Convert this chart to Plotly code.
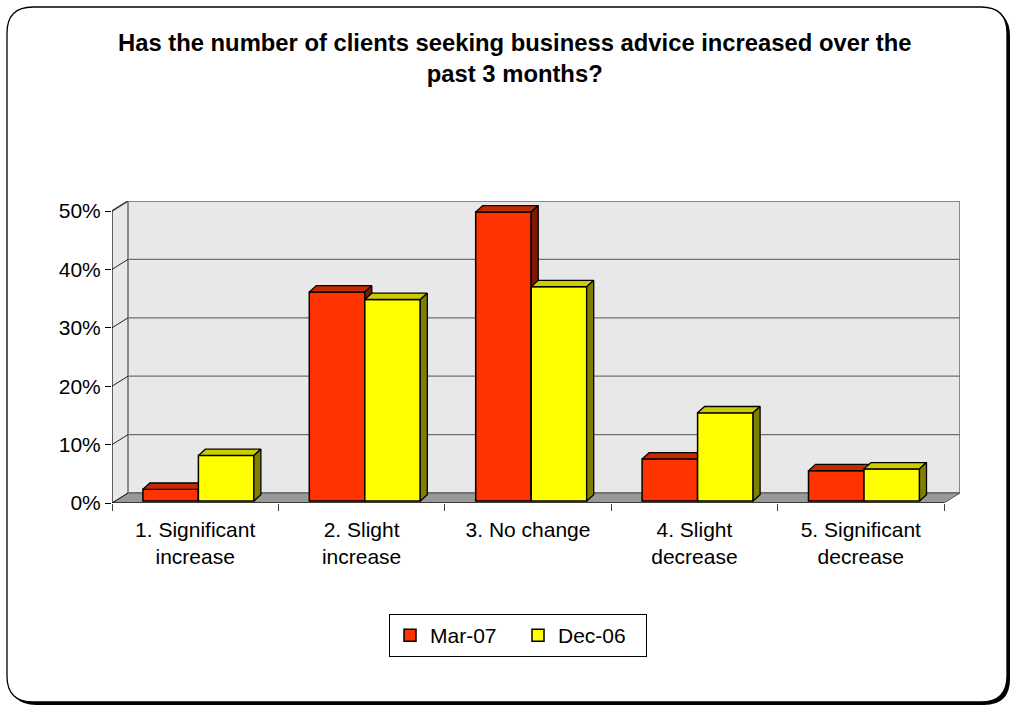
import plotly.graph_objects as go

# ---- data -------------------------------------------------------------
categories = [
    "1. Significant<br>increase",
    "2. Slight<br>increase",
    "3. No change",
    "4. Slight<br>decrease",
    "5. Significant<br>decrease",
]
series_names = ["Mar-07", "Dec-06"]
mar07 = [2.0, 35.8, 49.5, 7.2, 5.2]
dec06 = [7.8, 34.5, 36.7, 15.1, 5.5]
y_ticks = [0, 10, 20, 30, 40, 50]

# ---- geometry of the pseudo-3D box (pixels) ----------------------------
W, H = 1011, 706
FRONT_LEFT, FRONT_RIGHT = 112, 944
BACK_RIGHT = 960
BACK_TOP, FRONT_BOTTOM = 201, 503
DEPTH_PX_X, DEPTH_PX_Y = 16, 10
N = len(categories)
ux = (FRONT_RIGHT - FRONT_LEFT) / N          # px per category
uy = 5.84                                    # px per percent
DX = DEPTH_PX_X / ux                         # wall depth in x units
DY = DEPTH_PX_Y / uy                         # wall depth in y units
YMAX = y_ticks[-1]
BX, BY = 0.2 * DX, 0.2 * DY                  # bars sit a little into the box
BAR_W = 55.5 / ux
BDX, BDY = 7 / ux, 6.3 / uy                  # bar depth

FONT = "Liberation Sans, Arial, sans-serif"
RED, RED_TOP, RED_SIDE = "#FF3300", "#C42A00", "#7F1A00"
YEL, YEL_TOP, YEL_SIDE = "#FFFF00", "#CCCC00", "#808000"
WALL = "#E8E8E8"
WALL_EDGE = "#8A8A8A"
FLOOR = "#999999"


def px_x(p):
    return p / W


def px_y(p):
    return 1 - p / H


def rounded_path(x0, y0, x1, y1, r):
    pts = [
        ("M", [(x0 + r, y0)]), ("L", [(x1 - r, y0)]), ("Q", [(x1, y0), (x1, y0 + r)]),
        ("L", [(x1, y1 - r)]), ("Q", [(x1, y1), (x1 - r, y1)]),
        ("L", [(x0 + r, y1)]), ("Q", [(x0, y1), (x0, y1 - r)]),
        ("L", [(x0, y0 + r)]), ("Q", [(x0, y0), (x0 + r, y0)]),
    ]
    s = ""
    for cmd, coords in pts:
        s += cmd + " " + " ".join(f"{px_x(a):.5f},{px_y(b):.5f}" for a, b in coords) + " "
    return s + "Z"


def poly_path(points):
    return "M " + " L ".join(f"{a:.5f},{b:.5f}" for a, b in points) + " Z"


shapes = []
# frame with a small drop shadow
shapes.append(dict(type="path", xref="paper", yref="paper", layer="below",
                   path=rounded_path(10, 10, 1010, 705, 26),
                   fillcolor="black", line=dict(width=0)))
shapes.append(dict(type="path", xref="paper", yref="paper", layer="below",
                   path=rounded_path(7, 7, 1007, 702, 26),
                   fillcolor="white", line=dict(color="black", width=1.3)))

x_lo, x_hi = -0.5, N - 0.5
# side wall
shapes.append(dict(type="path", xref="x", yref="y", layer="below",
                   path=poly_path([(x_lo, 0), (x_lo, YMAX), (x_lo + DX, YMAX + DY), (x_lo + DX, DY)]),
                   fillcolor=WALL, line=dict(width=0)))
# back wall
shapes.append(dict(type="rect", xref="x", yref="y", layer="below",
                   x0=x_lo + DX, x1=x_hi + DX, y0=DY, y1=YMAX + DY,
                   fillcolor=WALL, line=dict(color=WALL_EDGE, width=2)))
# top edge of the side wall
shapes.append(dict(type="line", xref="x", yref="y", layer="below",
                   x0=x_lo, y0=YMAX, x1=x_lo + DX, y1=YMAX + DY,
                   line=dict(color=WALL_EDGE, width=2)))
# gridlines on the back wall
for v in y_ticks[1:-1]:
    shapes.append(dict(type="line", xref="x", yref="y", layer="below",
                       x0=x_lo + DX, x1=x_hi + DX, y0=v + DY, y1=v + DY,
                       line=dict(color="#707070", width=1.3)))
# floor
shapes.append(dict(type="path", xref="x", yref="y", layer="below",
                   path=poly_path([(x_lo, 0), (x_hi, 0), (x_hi + DX, DY), (x_lo + DX, DY)]),
                   fillcolor=FLOOR, line=dict(color="#555555", width=1)))
# short diagonals from the value axis to the back wall
for v in y_ticks:
    shapes.append(dict(type="line", xref="x", yref="y", layer="below",
                       x0=x_lo, y0=v, x1=x_lo + DX, y1=v + DY,
                       line=dict(color="#222222", width=1)))
# front axis lines
shapes.append(dict(type="line", xref="x", yref="y", layer="below",
                   x0=x_lo, y0=0, x1=x_lo, y1=YMAX, line=dict(color="black", width=1.2)))
shapes.append(dict(type="line", xref="x", yref="y", layer="below",
                   x0=x_lo, y0=0, x1=x_hi, y1=0, line=dict(color="black", width=1.2)))

fig = go.Figure()


def add_series(name, vals, front, top, side, left_of_center, xa, ya, show):
    xs = [i + BX for i in range(N)]
    offset = -BAR_W if left_of_center else 0
    fig.add_trace(go.Bar(
        x=xs, y=vals, base=BY, width=BAR_W, offset=offset, name=name,
        marker=dict(color=front, line=dict(color="black", width=1.5)),
        xaxis=xa, yaxis=ya, hoverinfo="skip", showlegend=show))
    for i, v in enumerate(vals):
        x0 = xs[i] + offset
        x1 = x0 + BAR_W
        h = BY + v
        fig.add_trace(go.Scatter(
            x=[x0, x1, x1 + BDX, x0 + BDX, x0], y=[h, h, h + BDY, h + BDY, h],
            fill="toself", fillcolor=top, mode="lines",
            line=dict(color="black", width=1.3), xaxis=xa, yaxis=ya,
            hoverinfo="skip", showlegend=False))
        fig.add_trace(go.Scatter(
            x=[x1, x1 + BDX, x1 + BDX, x1, x1], y=[BY, BY + BDY, h + BDY, h, BY],
            fill="toself", fillcolor=side, mode="lines",
            line=dict(color="black", width=1.3), xaxis=xa, yaxis=ya,
            hoverinfo="skip", showlegend=False))


add_series(series_names[0], mar07, RED, RED_TOP, RED_SIDE, True, "x", "y", True)
add_series(series_names[1], dec06, YEL, YEL_TOP, YEL_SIDE, False, "x2", "y2", True)

x_dom = [px_x(FRONT_LEFT), px_x(BACK_RIGHT)]
y_dom = [px_y(FRONT_BOTTOM), px_y(BACK_TOP)]
x_rng = [x_lo, x_hi + DX]
y_rng = [0, YMAX + DY]

fig.update_layout(
    width=W, height=H,
    margin=dict(l=0, r=0, t=0, b=0),
    paper_bgcolor="white",
    plot_bgcolor="rgba(0,0,0,0)",
    font=dict(family=FONT, size=21, color="black"),
    showlegend=True,
    shapes=shapes,
    xaxis=dict(domain=x_dom, range=x_rng, anchor="y",
               tickmode="array", tickvals=list(range(N)), ticktext=categories,
               ticks="", showline=False, showgrid=False, zeroline=False,
               minor=dict(tickmode="array", tickvals=[k - 0.5 for k in range(N + 1)],
                          ticks="outside", ticklen=7, tickcolor="#404040", showgrid=False),
               ticklabelstandoff=12,
               tickfont=dict(size=21), automargin=False, fixedrange=True),
    yaxis=dict(domain=y_dom, range=y_rng, anchor="x",
               tickmode="array", tickvals=y_ticks, ticktext=[f"{v}%" for v in y_ticks],
               ticks="outside", ticklen=6, tickcolor="black",
               showline=False, showgrid=False, zeroline=False,
               tickfont=dict(size=21), automargin=False, fixedrange=True),
    xaxis2=dict(domain=x_dom, range=x_rng, overlaying="x", anchor="y2", visible=False),
    yaxis2=dict(domain=y_dom, range=y_rng, overlaying="y", anchor="x2", visible=False),
    legend=dict(orientation="h", x=px_x(518), xanchor="center",
                y=px_y(614), yanchor="top", entrywidth=83, entrywidthmode="pixels",
                bordercolor="black", borderwidth=1, bgcolor="white",
                font=dict(size=21), traceorder="normal"),
    annotations=[dict(
        text="<b>Has the number of clients seeking business advice increased over the<br>past 3 months?</b>",
        xref="paper", yref="paper", x=px_x(515), y=px_y(58),
        xanchor="center", yanchor="middle", showarrow=False,
        font=dict(family=FONT, size=23.8, color="black"))],
)

fig.write_html("out.html")
